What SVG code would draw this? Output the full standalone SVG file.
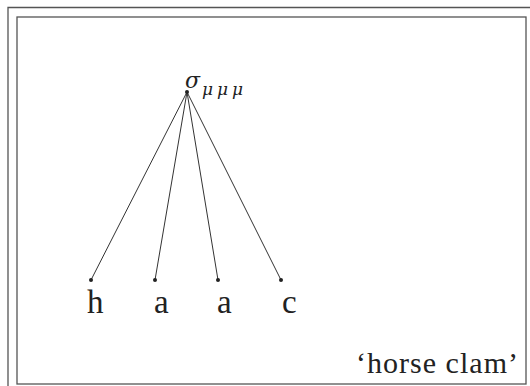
<svg xmlns="http://www.w3.org/2000/svg" width="530" height="386" viewBox="0 0 530 386">
<style>
.frame{fill:none;stroke:#555;stroke-width:1.3}
.edge{stroke:#333;stroke-width:1;fill:none}
.dot{fill:#222}
.t{font-family:"Liberation Serif",serif;fill:#222}
.g{font-family:"DejaVu Serif",serif;font-style:italic;fill:#222}
</style>
<rect width="530" height="386" fill="#fff"/>
<path class="frame" d="M8,390 V7.5 H535"/>
<rect class="frame" x="17" y="17" width="509" height="367"/>
<g id="connectors">
<line class="edge" x1="187" y1="92" x2="91" y2="280"/>
<line class="edge" x1="187" y1="92" x2="155" y2="280"/>
<line class="edge" x1="187" y1="92" x2="218" y2="280"/>
<line class="edge" x1="187" y1="92" x2="281" y2="280"/>
</g>
<g id="root">
<circle class="dot" cx="187" cy="92" r="2"/>
<text class="g" x="185" y="88" font-size="22">σ</text>
<text class="g" x="202" y="95" font-size="17" textLength="41" lengthAdjust="spacing">μμμ</text>
</g>
<g id="leaf1"><circle class="dot" cx="91" cy="280" r="2"/><text class="t" x="87" y="313" font-size="33">h</text></g>
<g id="leaf2"><circle class="dot" cx="155" cy="280" r="2"/><text class="t" x="154" y="313" font-size="33">a</text></g>
<g id="leaf3"><circle class="dot" cx="218" cy="280" r="2"/><text class="t" x="217" y="313" font-size="33">a</text></g>
<g id="leaf4"><circle class="dot" cx="281" cy="280" r="2"/><text class="t" x="282" y="313" font-size="33">c</text></g>
<g id="gloss"><text class="t" x="356" y="373" font-size="30" textLength="162" lengthAdjust="spacing">‘horse clam’</text></g>
</svg>
